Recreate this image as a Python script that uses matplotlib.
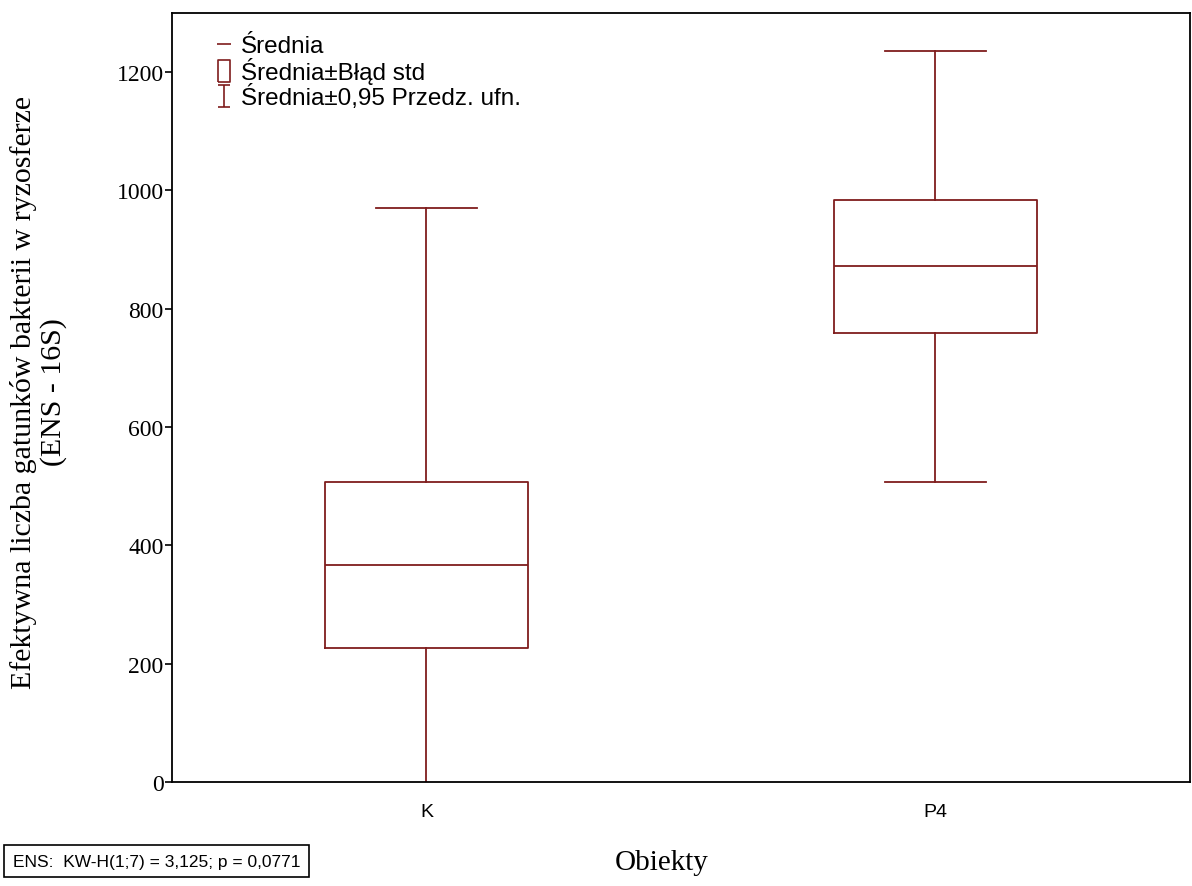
import matplotlib.pyplot as plt
from matplotlib.lines import Line2D
from matplotlib.path import Path

groups = ["K", "P4"]
means = [367, 872]
se_low = [226, 759]
se_high = [508, 984]
ci_low = [-236, 508]
ci_high = [970, 1236]
y_ticks = [0, 200, 400, 600, 800, 1000, 1200]

RED = "#7f1d1d"
SERIF = "Liberation Serif"
SANS = "Liberation Sans"

fig = plt.figure(figsize=(11.92, 8.87), dpi=100)
ax = fig.add_axes([0.1443, 0.1172, 0.8540, 0.8670])

stats = []
for g, m, lo, hi, wlo, whi in zip(groups, means, se_low, se_high, ci_low, ci_high):
    stats.append({"label": g, "med": m, "q1": lo, "q3": hi,
                  "whislo": wlo, "whishi": whi, "fliers": []})

line_kw = dict(color=RED, linewidth=1.3)
ax.bxp(stats, positions=[0, 1], widths=0.4, capwidths=0.2,
       showfliers=False, boxprops=line_kw, medianprops=line_kw,
       whiskerprops=line_kw, capprops=line_kw)

ax.set_xlim(-0.5, 1.5)
ax.set_ylim(0, 1300)
ax.set_yticks(y_ticks)
ax.set_yticklabels([str(v) for v in y_ticks], fontfamily=SERIF, fontsize=17)
ax.set_xticks([0, 1])
ax.set_xticklabels(groups, fontfamily=SANS, fontsize=14)
ax.tick_params(axis="x", length=0, pad=15)
ax.tick_params(axis="y", length=5, width=1.2, direction="out", pad=1)
for sp in ax.spines.values():
    sp.set_linewidth(1.3)

fig.text(0.032, 0.558,
         "Efektywna liczba gatunków bakterii w ryzosferze\n(ENS - 16S)",
         fontfamily=SERIF, fontsize=21.5, rotation=90, ha="center",
         va="center", linespacing=1.15, multialignment="center")

# legend symbols
mean_mark = Path([(-1, 0), (1, 0)], [Path.MOVETO, Path.LINETO])
box_mark = Path([(-0.54, -1), (0.54, -1), (0.54, 1), (-0.54, 1), (-0.54, -1)],
                [Path.MOVETO, Path.LINETO, Path.LINETO, Path.LINETO, Path.LINETO])
ci_mark = Path([(-0.56, 1), (0.56, 1), (0, 1), (0, -1), (-0.56, -1), (0.56, -1)],
               [Path.MOVETO, Path.LINETO, Path.MOVETO, Path.LINETO, Path.MOVETO, Path.LINETO])
handles = [
    Line2D([], [], linestyle="none", marker=mean_mark, markersize=10,
           markeredgecolor=RED, markerfacecolor="none", markeredgewidth=1.2),
    Line2D([], [], linestyle="none", marker=box_mark, markersize=16,
           markeredgecolor=RED, markerfacecolor="none", markeredgewidth=1.2),
    Line2D([], [], linestyle="none", marker=ci_mark, markersize=16.5,
           markeredgecolor=RED, markerfacecolor="none", markeredgewidth=1.2),
]
labels = ["Średnia", "Średnia±Błąd std", "Średnia±0,95 Przedz. ufn."]
ax.legend(handles, labels, loc="upper left", bbox_to_anchor=(0.027, 0.993),
          frameon=False, prop={"family": SANS, "size": 17.5}, handlelength=0.6,
          handletextpad=0.4, labelspacing=0.0, borderaxespad=0.3)

fig.text(0.555, 0.027, "Obiekty", fontfamily=SERIF, fontsize=21,
         ha="center", va="center")
fig.text(0.011, 0.028, "ENS:  KW-H(1;7) = 3,125; p = 0,0771",
         fontfamily=SANS, fontsize=12.5, ha="left", va="center",
         bbox=dict(boxstyle="square,pad=0.5", facecolor="white",
                   edgecolor="black", linewidth=1.2))

fig.savefig("out.png", dpi=100)
